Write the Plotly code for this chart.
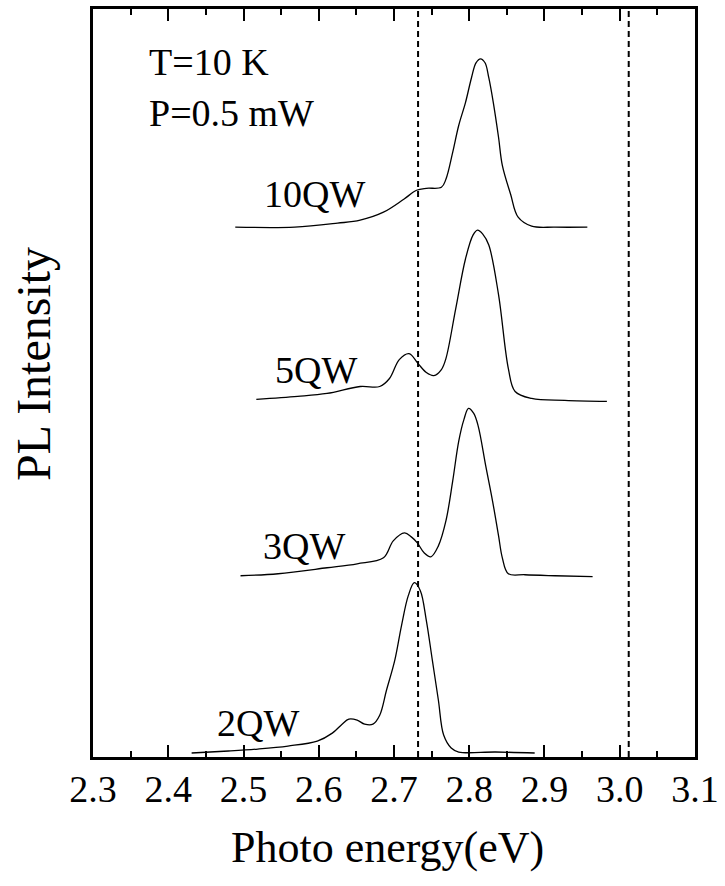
import plotly.graph_objects as go

# ---- data (energy in eV, PL intensity in arbitrary units) ----
e_2qw = [2.431, 2.480, 2.519, 2.559, 2.598, 2.618, 2.631, 2.640, 2.651, 2.661, 2.672, 2.681,
         2.690, 2.701, 2.710, 2.719, 2.727, 2.735, 2.743, 2.751, 2.759, 2.766, 2.776, 2.786,
         2.835, 2.887]
i_2qw = [4, 6, 8, 11, 16, 24, 33, 38, 37, 33, 33, 42,
         67, 97, 132, 162, 175, 167, 137, 97, 57, 22, 9, 5,
         5, 4]

e_3qw = [2.496, 2.546, 2.611, 2.651, 2.686, 2.699, 2.714, 2.723, 2.731, 2.740, 2.749, 2.759,
         2.769, 2.778, 2.786, 2.793, 2.799, 2.806, 2.812, 2.822, 2.831, 2.839, 2.844, 2.852,
         2.874, 2.914, 2.964]
i_3qw = [182, 184, 190, 194, 200, 217, 225, 221, 215, 205, 201, 212,
         237, 277, 317, 339, 350, 345, 332, 292, 257, 222, 200, 184,
         183, 182, 181]

e_5qw = [2.517, 2.572, 2.611, 2.655, 2.681, 2.694, 2.707, 2.720, 2.732, 2.743, 2.753, 2.763,
         2.769, 2.782, 2.795, 2.805, 2.811, 2.818, 2.826, 2.839, 2.852, 2.861, 2.883, 2.927,
         2.983]
i_5qw = [359, 362, 365, 372, 372, 380, 399, 405, 395, 386, 383, 389,
         400, 450, 500, 524, 529, 525, 514, 464, 390, 367, 360, 358,
         357]

e_10qw = [2.489, 2.568, 2.625, 2.655, 2.686, 2.713, 2.730, 2.743, 2.763, 2.769, 2.778, 2.786,
          2.795, 2.803, 2.809, 2.815, 2.821, 2.826, 2.832, 2.839, 2.844, 2.855, 2.865, 2.883,
          2.914, 2.957]
i_10qw = [532, 532, 536, 539, 547, 560, 569, 571, 572, 580, 607, 634,
          657, 682, 697, 701, 697, 682, 657, 622, 594, 565, 542, 533,
          532, 532]

ref_lines = [2.732, 3.012]

labels = ["10QW", "5QW", "3QW", "2QW"]
label_x = [2.594, 2.596, 2.580, 2.519]
label_y = [565, 389, 212, 34]

cond_text = ["T=10 K", "P=0.5 mW"]
cond_x = [2.372, 2.372]
cond_y = [698, 647]

x_ticks = [2.3, 2.4, 2.5, 2.6, 2.7, 2.8, 2.9, 3.0, 3.1]
x_tick_text = ["2.3", "2.4", "2.5", "2.6", "2.7", "2.8", "2.9", "3.0", "3.1"]

FONT = "Liberation Serif"

fig = go.Figure()
for ex, iy in [(e_10qw, i_10qw), (e_5qw, i_5qw), (e_3qw, i_3qw), (e_2qw, i_2qw)]:
    fig.add_trace(go.Scatter(x=ex, y=iy, mode="lines", line=dict(color="black", width=1.3),
                             line_shape="spline", showlegend=False, hoverinfo="skip"))

for xv in ref_lines:
    fig.add_shape(type="line", x0=xv, x1=xv, y0=0, y1=1, xref="x", yref="paper",
                  line=dict(color="black", width=2, dash="6px,4px"))

for t, xv, yv in zip(labels, label_x, label_y):
    fig.add_annotation(x=xv, y=yv, text=t, showarrow=False, xanchor="center", yanchor="middle",
                       font=dict(family=FONT, size=38, color="black"))
for t, xv, yv in zip(cond_text, cond_x, cond_y):
    fig.add_annotation(x=xv, y=yv, text=t, showarrow=False, xanchor="left", yanchor="middle",
                       font=dict(family=FONT, size=38, color="black"))

fig.add_annotation(x=0.49, y=-0.121, xref="paper", yref="paper", text="Photo energy(eV)",
                   showarrow=False, xanchor="center", yanchor="middle",
                   font=dict(family=FONT, size=44, color="black"))
fig.add_annotation(x=-0.10, y=0.525, xref="paper", yref="paper", text="PL Intensity",
                   showarrow=False, textangle=-90, xanchor="center", yanchor="middle",
                   font=dict(family=FONT, size=48, color="black"))

fig.update_xaxes(range=[2.2999, 3.1001], tickmode="array", tickvals=x_ticks, ticktext=x_tick_text,
                 ticks="inside", ticklen=12, tickwidth=2, tickcolor="black",
                 minor=dict(ticks="inside", ticklen=6, tickwidth=2, tickcolor="black", dtick=0.05,
                            tick0=2.3, showgrid=False),
                 showline=True, linewidth=3, linecolor="black", mirror="ticks",
                 showgrid=False, zeroline=False, ticklabeloverflow="allow",
                 ticklabelstandoff=-4,
                 tickfont=dict(family=FONT, size=38, color="black"))
fig.update_yaxes(range=[0, 751], showticklabels=False, ticks="", showline=True, linewidth=3,
                 linecolor="black", mirror=True, showgrid=False, zeroline=False)

fig.update_layout(width=725, height=886, margin=dict(l=93, r=23, t=6, b=129),
                  font=dict(family=FONT, color="black"),
                  plot_bgcolor="white", paper_bgcolor="white", showlegend=False)

fig.write_html("out.html", config={"displayModeBar": False},
               post_script="document.body.style.margin='0';")
